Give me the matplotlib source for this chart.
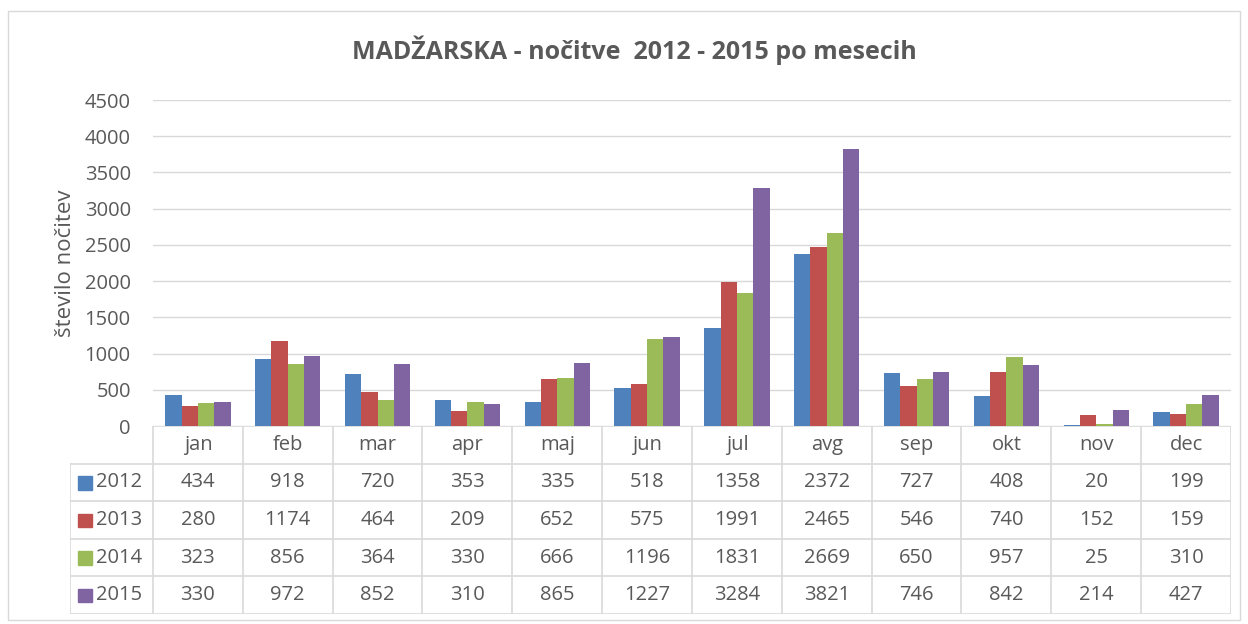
import numpy as np
import matplotlib.pyplot as plt
from matplotlib.patches import Rectangle

# podatki
meseci = ['jan', 'feb', 'mar', 'apr', 'maj', 'jun', 'jul', 'avg', 'sep', 'okt', 'nov', 'dec']
leta = ['2012', '2013', '2014', '2015']
v2012 = [434, 918, 720, 353, 335, 518, 1358, 2372, 727, 408, 20, 199]
v2013 = [280, 1174, 464, 209, 652, 575, 1991, 2465, 546, 740, 152, 159]
v2014 = [323, 856, 364, 330, 666, 1196, 1831, 2669, 650, 957, 25, 310]
v2015 = [330, 972, 852, 310, 865, 1227, 3284, 3821, 746, 842, 214, 427]
serije = [v2012, v2013, v2014, v2015]
barve = ['#4F81BD', '#C0504D', '#9BBB59', '#8064A2']

W, H = 1248, 624
txt = '#595959'
mreza = '#D9D9D9'
fs = 14.5
plt.rcParams['font.family'] = ['Open Sans', 'DejaVu Sans']

fig = plt.figure(figsize=(W / 100, H / 100), dpi=100)

def px(x0, y0, x1, y1):
    return [x0 / W, 1 - y1 / H, (x1 - x0) / W, (y1 - y0) / H]

# okvir grafa
fig.patches.append(Rectangle((8 / W, 1 - 620 / H), (1240 - 8) / W, (620 - 11) / H,
                             transform=fig.transFigure, fill=False, edgecolor=mreza, lw=1))

# stolpci
ax = fig.add_axes(px(153, 100, 1231, 426))
x = np.arange(len(meseci))
n = len(serije)
sirina = 1 / (n + 1.5)
for i, (vals, c) in enumerate(zip(serije, barve)):
    ax.bar(x + (i - (n - 1) / 2) * sirina, vals, width=sirina, color=c, zorder=3)
ax.set_xlim(-0.5, len(meseci) - 0.5)
ax.set_ylim(0, 4500)
ax.set_yticks(range(0, 4501, 500))
ax.yaxis.grid(True, color=mreza, lw=1, zorder=0)
for s in ax.spines.values():
    s.set_visible(False)
ax.tick_params(axis='y', length=0, labelsize=fs, labelcolor=txt, pad=16)
ax.tick_params(axis='x', length=0, labelbottom=False)
ax.set_ylabel('število nočitev', fontsize=16, color=txt, labelpad=6)
ax.patch.set_alpha(0)

fig.text(634 / W, 1 - 50 / H, 'MADŽARSKA - nočitve  2012 - 2015 po mesecih',
         ha='center', va='center', fontsize=18, fontweight='bold', color=txt)

# tabela s podatki
levo = -0.5 - (153 - 70) / ((1231 - 153) / 12)
tx = fig.add_axes(px(70, 426, 1231, 614))
tx.set_xlim(levo, len(meseci) - 0.5)
tx.set_ylim(5, 0)
tx.axis('off')
lw = 1.2
# vodoravne crte
tx.plot([-0.5, len(meseci) - 0.5], [0, 0], color=mreza, lw=lw)
for r in range(1, 6):
    tx.plot([levo, len(meseci) - 0.5], [r, r], color=mreza, lw=lw)
# navpicne crte
tx.plot([levo, levo], [1, 5], color=mreza, lw=lw)
for k in range(len(meseci) + 1):
    tx.plot([k - 0.5, k - 0.5], [0, 5], color=mreza, lw=lw)
for k, m in enumerate(meseci):
    tx.text(k, 0.5, m, ha='center', va='center', fontsize=fs, color=txt)
for r, (leto, vals, c) in enumerate(zip(leta, serije, barve)):
    tx.add_patch(Rectangle((levo + 0.09, r + 1.5 - 0.17), 0.15, 0.36, color=c))
    tx.text(levo + 0.29, r + 1.5, leto, ha='left', va='center', fontsize=fs, color=txt)
    for k, v in enumerate(vals):
        tx.text(k, r + 1.5, str(v), ha='center', va='center', fontsize=fs, color=txt)

fig.savefig('out.png', dpi=100)
